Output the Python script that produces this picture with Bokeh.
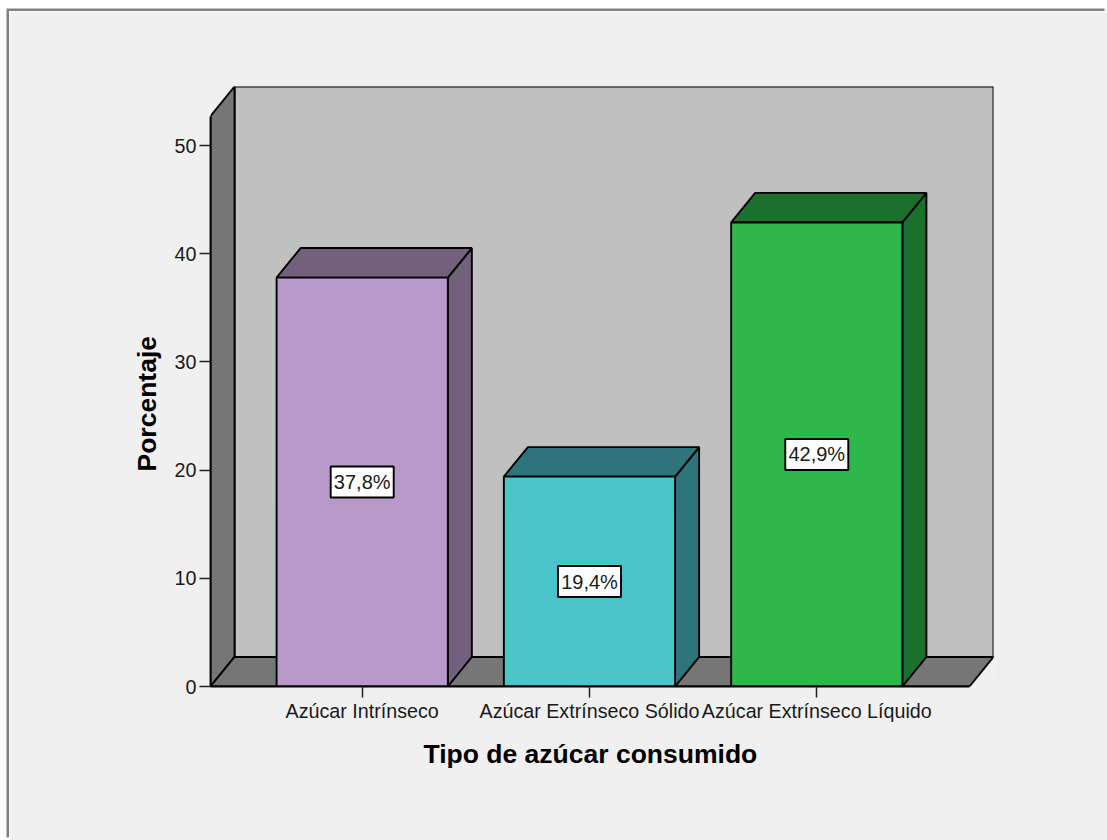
from bokeh.plotting import figure
from bokeh.models import Range1d, FixedTicker, Title
from bokeh.core.properties import value
from bokeh.embed import file_html
from bokeh.resources import INLINE

categories = ["Azúcar Intrínseco", "Azúcar Extrínseco Sólido", "Azúcar Extrínseco Líquido"]
percentages = [37.8, 19.4, 42.9]
value_labels = ["37,8%", "19,4%", "42,9%"]
front_colors = ["#b899c9", "#4ac3c9", "#2fb84a"]
side_colors = ["#73607d", "#2e747a", "#1c702e"]
y_ticks = [0, 10, 20, 30, 40, 50]
x_title = "Tipo de azúcar consumido"
y_title = "Porcentaje"

FONT = "Liberation Sans"
INK = "#1a1a1a"
BG = "#f0f0f0"
PX_X = 227.0          # pixels per category
PX_Y = 10.79          # pixels per percent
DX = 24 / PX_X        # depth of the 3D projection, data units
DY = 29.5 / PX_Y
BAR_W = 171 / PX_X
X0 = -(362.5 - 211) / PX_X
X1 = (993 - 362.5) / PX_X
Y1 = (685.5 - 87) / PX_Y
LW = 1.9

p = figure(width=1098, height=829, output_backend="svg", toolbar_location=None,
           x_range=Range1d(X0, X1), y_range=Range1d(0, Y1),
           min_border_left=201, min_border_right=114, min_border_top=75, min_border_bottom=154)
p.margin = (11, 0, 0, 9)
p.styles = {"box-shadow": "-2.5px -2.5px 0 #808080"}
p.border_fill_color = BG
p.background_fill_color = BG
p.outline_line_color = None
p.grid.visible = False

# walls and floor
xf, xb, xr, xrf = X0, X0 + DX, X1, X1 - DX
p.patches([[xb, xr, xr, xb]], [[DY, DY, Y1, Y1]], fill_color="#c0c0c0", line_color="black", line_width=LW)
p.patches([[xf, xb, xb, xf]], [[0, DY, Y1, Y1 - DY]], fill_color="#767676", line_color="black", line_width=LW)
p.patches([[xf, xrf, xr, xb]], [[0, 0, DY, DY]], fill_color="#767676", line_color="black", line_width=LW)

# bars
for i, v in enumerate(percentages):
    l, r = i - BAR_W / 2, i + BAR_W / 2
    p.patches([[r, r + DX, r + DX, r], [l, r, r + DX, l + DX]],
              [[0, DY, v + DY, v], [v, v, v + DY, v + DY]],
              fill_color=side_colors[i], line_color="black", line_width=LW)
    p.patches([[l, r, r, l]], [[0, 0, v, v]], fill_color=front_colors[i], line_color="black", line_width=LW)

xs = list(range(len(percentages)))
mids = [v / 2 for v in percentages]
p.rect(xs, mids, width=63, height=31, width_units="screen", height_units="screen",
       fill_color="white", line_color="black", line_width=LW)
p.text(xs, mids, text=value_labels, text_align="center", text_baseline="middle",
       text_font=value(FONT), text_font_size="20px", text_color=INK)

# axes
xa, ya = p.xaxis[0], p.yaxis[0]
xa.ticker = FixedTicker(ticks=xs)
xa.major_label_overrides = {i: c for i, c in enumerate(categories)}
xa.bounds = (xf, xrf)
ya.ticker = FixedTicker(ticks=y_ticks)
ya.bounds = (0, Y1 - DY)
for a in (xa, ya):
    a.axis_line_color = "black"
    a.axis_line_width = LW
    a.major_tick_line_color = "#222222"
    a.major_tick_line_width = 1.5
    a.major_tick_out = 11
    a.major_tick_in = 0
    a.minor_tick_line_color = None
    a.major_label_text_font = FONT
    a.major_label_text_font_size = "19.7px"
    a.major_label_text_color = INK
    a.major_label_standoff = 3
xa.major_label_standoff = 2

# axis titles are centred on the axis lines, not on the frame, so they are offset titles
title_style = dict(text_font=FONT, text_font_size="26.5px", text_font_style="bold", text_color="black", align="left")
p.add_layout(Title(text=x_title, offset=213, standoff=24, **title_style), "below")
p.add_layout(Title(text=y_title, offset=215, standoff=19, **title_style), "left")

open("out.html", "w").write(file_html(p, INLINE))
